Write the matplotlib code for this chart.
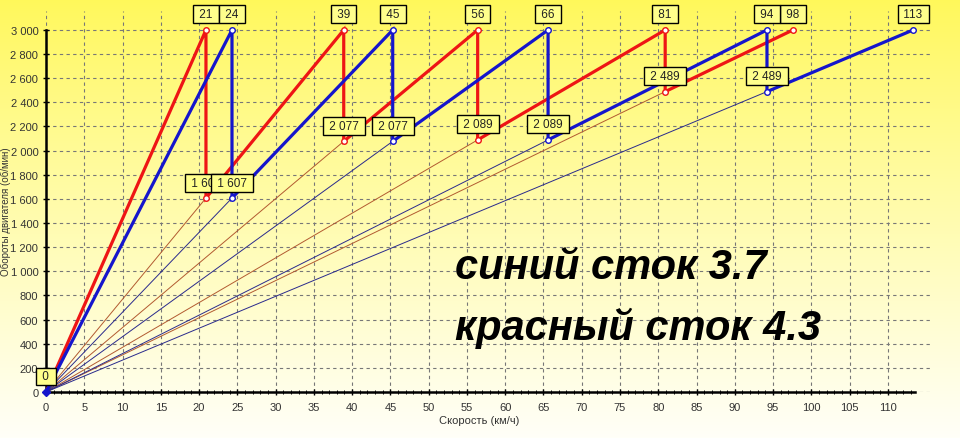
import numpy as np
import matplotlib.pyplot as plt
from matplotlib.ticker import FixedLocator, FuncFormatter

# speed (km/h) at which each gear reaches 3000 rpm
red_top_speed = [20.9, 38.9, 56.4, 80.9, 97.6]
blue_top_speed = [24.3, 45.3, 65.6, 94.2, 113.3]
# rpm right after the shift into the next gear
red_after_rpm = [1607, 2077, 2089, 2489]
blue_after_rpm = [1607, 2077, 2089, 2489]
shift_rpm = 3000

x_ticks = list(range(0, 115, 5))
x_minor = list(range(0, 114))
y_ticks = list(range(0, 3001, 200))

RED, RED_THIN = '#ee1515', '#b25a30'
BLUE, BLUE_THIN = '#1515cc', '#2a2a8c'


def space_thousands(v, pos=None):
    return f"{int(round(v)):,}".replace(",", " ")


def draw_gears(ax, top, after, col, thin_col, z):
    # thin lines: each gear line from origin to its shift-in point
    for v, r in zip(top[:-1], after):
        ax.plot([0, v], [0, r], color=thin_col, lw=0.7, zorder=z)
    # thick saw-tooth
    xs, ys = [0, top[0]], [0, shift_rpm]
    for i, r in enumerate(after):
        xs += [top[i], top[i + 1]]
        ys += [r, shift_rpm]
    ax.plot(xs, ys, color=col, lw=2.3, zorder=z + 1, solid_joinstyle='miter')
    ax.plot(top, [shift_rpm] * len(top), 'o', ms=4, mfc='white', mec=col, mew=1, zorder=z + 2)
    ax.plot(top[:-1], after, 'o', ms=4, mfc='white', mec=col, mew=1, zorder=z + 2)


def box_label(ax, x, y, txt, z):
    ax.annotate(' ' + txt + ' ', (x, y), xytext=(0, 15.5), textcoords='offset pixels',
                ha='center', va='center', fontsize=8.5, family='Liberation Sans',
                color='#222222', zorder=z, annotation_clip=False,
                bbox=dict(boxstyle='square,pad=0.25', fc='#ffff8c', ec='black', lw=1))


fig = plt.figure(figsize=(9.6, 4.39), dpi=100)

# yellow -> white background
bg = fig.add_axes([0, 0, 1, 1], zorder=-10)
t = np.linspace(0, 1, 256)[:, None]
top_c = np.array([255, 248, 90]) / 255
bot_c = np.array([255, 255, 248]) / 255
grad = top_c + (bot_c - top_c) * (t ** 0.9)[..., None]
grad = np.repeat(grad, 4, axis=1)
bg.imshow(grad, aspect='auto', extent=[0, 1, 0, 1])
bg.axis('off')

ax = fig.add_axes([46 / 960, 46 / 439, 884 / 960, 381 / 439])
ax.set_facecolor('none')
ax.set_xlim(0, 115.5)
ax.set_ylim(0, 3157)

ax.set_xticks(x_ticks)
ax.set_yticks(y_ticks)
ax.xaxis.set_minor_locator(FixedLocator(x_minor))
ax.yaxis.set_major_formatter(FuncFormatter(space_thousands))
ax.grid(True, which='major', color='#777777', ls=(0, (3, 3)), lw=0.8)
ax.tick_params(axis='both', which='major', labelsize=8, labelcolor='#333333',
               direction='inout', length=5, width=1)
ax.tick_params(axis='x', which='minor', direction='inout', length=3, width=0.7)
ax.tick_params(axis='x', pad=5)
ax.tick_params(axis='y', pad=3)
for lab in ax.get_xticklabels() + ax.get_yticklabels():
    lab.set_family('Liberation Sans')
for s in ['top', 'right']:
    ax.spines[s].set_visible(False)
for s in ['left', 'bottom']:
    ax.spines[s].set_linewidth(1.8)
ax.spines['bottom'].set_bounds(0, 113.6)
ax.spines['left'].set_bounds(0, 3000)

draw_gears(ax, red_top_speed, red_after_rpm, RED, RED_THIN, 3)
draw_gears(ax, blue_top_speed, blue_after_rpm, BLUE, BLUE_THIN, 6)
ax.plot([0], [0], 'D', ms=4, color=BLUE, zorder=10, clip_on=False)

# value boxes
box_label(ax, 0, 0, '0', 20)
for i, v in enumerate(red_top_speed):
    box_label(ax, v, shift_rpm, str(round(v)), 20)
for i, v in enumerate(red_top_speed[:-1]):
    box_label(ax, v, red_after_rpm[i], space_thousands(red_after_rpm[i]), 20)
for i, v in enumerate(blue_top_speed):
    box_label(ax, v, shift_rpm, str(round(v)), 22)
for i, v in enumerate(blue_top_speed[:-1]):
    box_label(ax, v, blue_after_rpm[i], space_thousands(blue_after_rpm[i]), 22)

fig.text(479 / 960, 1 - 421 / 439, 'Скорость (км/ч)', ha='center', va='center',
         fontsize=8, family='Liberation Sans', color='#333333')
fig.text(0.0005, 0.517, 'Обороты двигателя (об/мин)', rotation=90, ha='left',
         va='center', fontsize=7, family='Liberation Sans', color='#333333')

fig.text(455 / 960, 1 - 279 / 439, 'синий сток 3.7', fontsize=30, style='italic',
         weight='bold', family='Liberation Sans', va='baseline', ha='left', color='black')
fig.text(455 / 960, 1 - 340 / 439, 'красный сток 4.3', fontsize=30, style='italic',
         weight='bold', family='Liberation Sans', va='baseline', ha='left', color='black')

fig.savefig('out.png', dpi=100)
